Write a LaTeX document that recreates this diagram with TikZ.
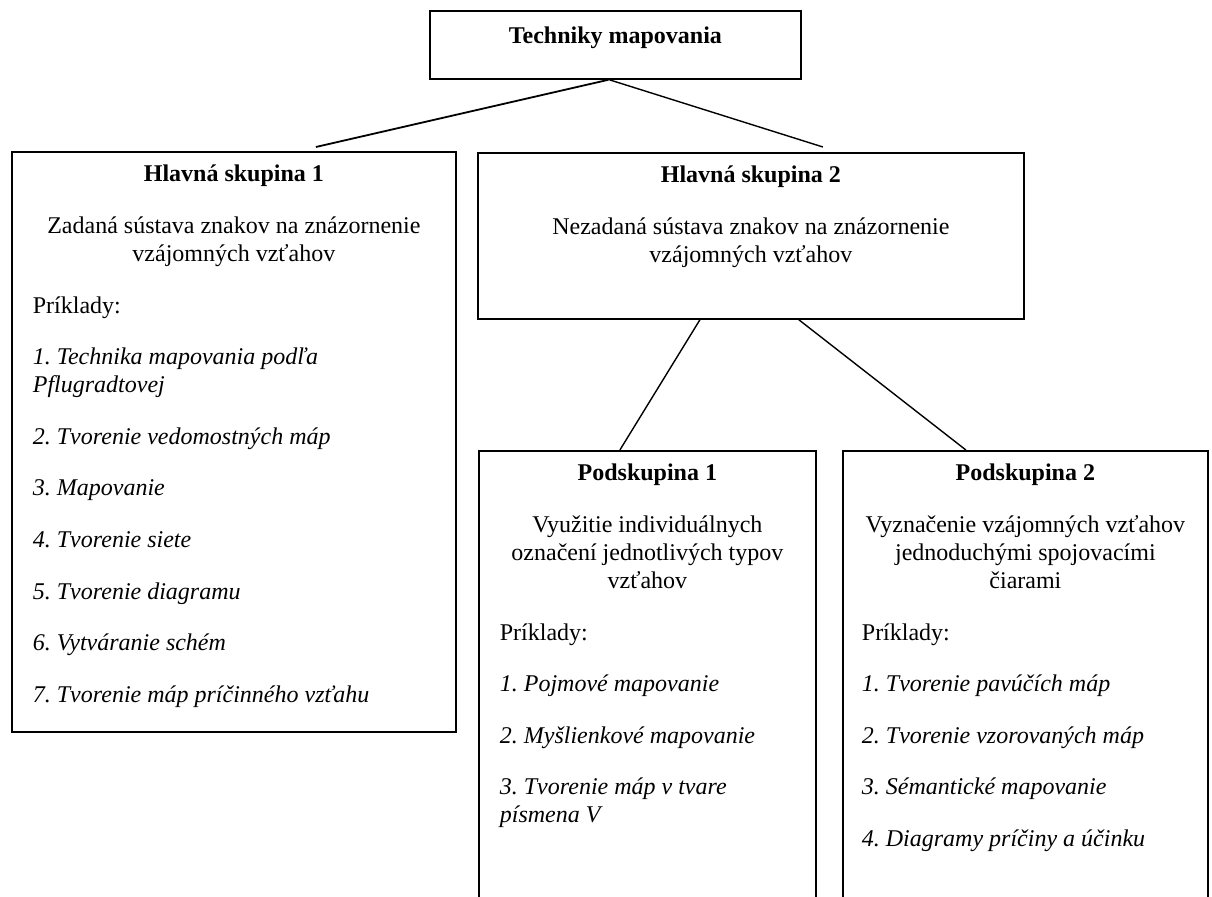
\documentclass[tikz,border=0pt]{standalone}
\usepackage{fontspec}
\setmainfont{Liberation Serif}
\usepackage{tikz}
\frenchspacing

\tikzset{
  box/.style={draw, line width=0.9pt, anchor=north west, inner xsep=10.5pt, inner ysep=0pt,
    font=\fontsize{12}{14}\selectfont},
  link/.style={line width=0.7pt}
}

\begin{document}
\begin{tikzpicture}[x=0.5pt, y=-0.5pt]
  \useasboundingbox (0,0) rectangle (1212,897);
  \clip (0,0) rectangle (1212,897);

  % top box
  \node[box, inner xsep=0pt] (top) at (429,10) {\parbox[t][34pt][t]{185.5pt}{\centering
      \rule{0pt}{16.5pt}\textbf{Techniky mapovania}}};

  % main groups
  \node[box] (g1) at (11,151) {\parbox[t][290pt][t]{201pt}{\setlength{\parskip}{11.8pt}%
      {\centering\rule{0pt}{15pt}\textbf{Hlavná skupina 1}\par}
      {\centering Zadaná sústava znakov na znázornenie\\ vzájomných vzťahov\par}
      Príklady:\par
      \textit{1. Technika mapovania podľa\\ Pflugradtovej}\par
      \textit{2. Tvorenie vedomostných máp}\par
      \textit{3. Mapovanie}\par
      \textit{4. Tvorenie siete}\par
      \textit{5. Tvorenie diagramu}\par
      \textit{6. Vytváranie schém}\par
      \textit{7. Tvorenie máp príčinného vzťahu}\par}};
  \node[box] (g2) at (477,152) {\parbox[t][83pt][t]{252pt}{\setlength{\parskip}{11.8pt}%
      {\centering\rule{0pt}{15pt}\textbf{Hlavná skupina 2}\par}
      {\centering Nezadaná sústava znakov na znázornenie\\ vzájomných vzťahov\par}}};

  % subgroups
  \node[box] (s1) at (478,450) {\parbox[t][240pt][t]{147.5pt}{\setlength{\parskip}{11.8pt}%
      {\centering\rule{0pt}{15pt}\textbf{Podskupina 1}\par}
      {\centering Využitie individuálnych\\ označení jednotlivých typov\\ vzťahov\par}
      Príklady:\par
      \textit{1. Pojmové mapovanie}\par
      \textit{2. Myšlienkové mapovanie}\par
      \textit{3. Tvorenie máp v tvare\\ písmena V}\par}};
  \node[box, inner xsep=9.5pt] (s2) at (842,450) {\parbox[t][240pt][t]{163.5pt}{\setlength{\parskip}{11.8pt}%
      {\centering\rule{0pt}{15pt}\textbf{Podskupina 2}\par}
      {\centering Vyznačenie vzájomných vzťahov\\ jednoduchými spojovacími\\ čiarami\par}
      Príklady:\par
      \textit{1. Tvorenie pavúčích máp}\par
      \textit{2. Tvorenie vzorovaných máp}\par
      \textit{3. Sémantické mapovanie}\par
      \textit{4. Diagramy príčiny a účinku}\par}};

  % connectors
  \draw[link, line width=0.9pt] ([xshift=-3.5pt]top.south) -- ([xshift=41pt, yshift=2pt]g1.north);
  \draw[link] ([xshift=-3pt]top.south) -- ([xshift=36pt, yshift=2.5pt]g2.north);
  \draw[link] ([xshift=-25.5pt]g2.south) -- ([xshift=-13.75pt]s1.north);
  \draw[link] ([xshift=24pt]g2.south) -- ([xshift=-29.75pt]s2.north);
\end{tikzpicture}
\end{document}
